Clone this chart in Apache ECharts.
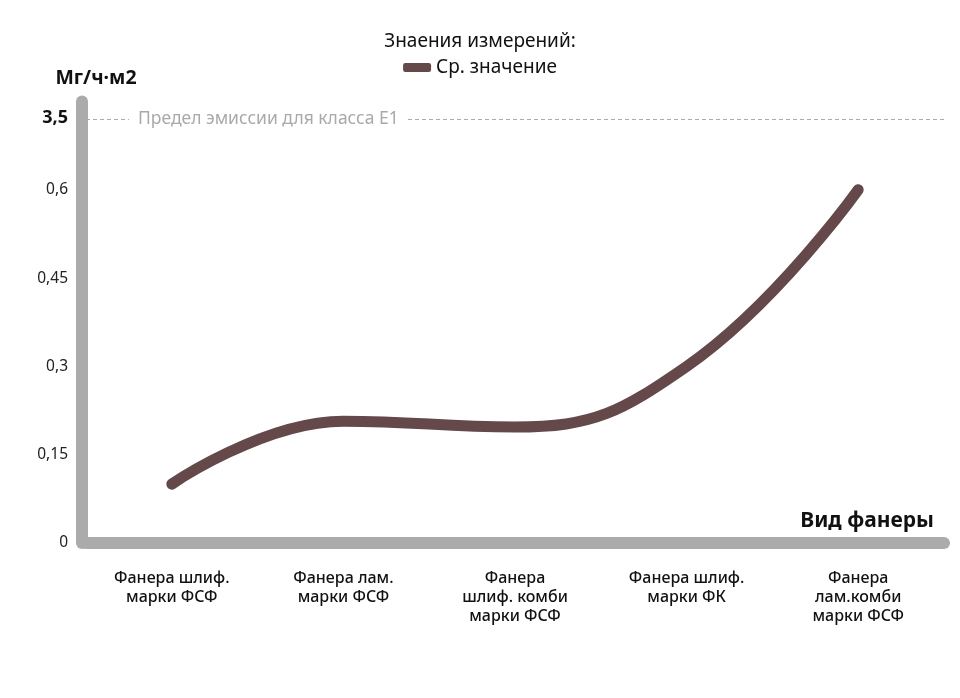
<!DOCTYPE html>
<html>
<head>
<meta charset="utf-8">
<script src="https://cdn.jsdelivr.net/npm/echarts@6/dist/echarts.min.js"></script>
<style>
  html, body { margin: 0; padding: 0; background: #fff; }
  #chart { width: 960px; height: 698px; }
</style>
</head>
<body>
<div id="chart"></div>
<script>
// данные
const categories = [
  'Фанера шлиф.\nмарки ФСФ',
  'Фанера лам.\nмарки ФСФ',
  'Фанера\nшлиф. комби\nмарки ФСФ',
  'Фанера шлиф.\nмарки ФК',
  'Фанера\nлам.комби\nмарки ФСФ',
]
const avgValues = [0.1, 0.207, 0.197, 0.3, 0.6]
const yTicks = [0, 0.15, 0.3, 0.45, 0.6]
// верх оси разорван: 3,5 рисуем в позиции 0.722
const limitPos = 0.722
const limitLabel = '3,5'
const limitText = 'Предел эмиссии для класса E1'

const font = 'Noto Sans'
const axisGray = '#ababab'
const lineColor = '#64484a'

var myChart = echarts.init(document.getElementById('chart'))

var option = {
  textStyle: { fontFamily: font },
  title: {
    text: 'Знаения измерений:',
    left: 'center',
    top: 27,
    textStyle: { fontFamily: font, fontSize: 19, fontWeight: 'normal', color: '#111' },
  },
  legend: {
    data: ['Ср. значение'],
    top: 53,
    left: 'center',
    icon: 'roundRect',
    itemWidth: 28,
    itemHeight: 9,
    itemGap: 8,
    textStyle: { fontFamily: font, fontSize: 19, color: '#111' },
  },
  grid: {
    left: 86,
    right: 16,
    top: 101.5,
    bottom: 155,
  },
  xAxis: {
    type: 'category',
    data: categories,
    offset: 3,
    axisLine: {
      show: true,
      lineStyle: { color: axisGray, width: 12, cap: 'round' },
    },
    axisTick: { show: false },
    axisLabel: {
      margin: 23,
      fontFamily: font,
      fontSize: 16,
      fontWeight: 500,
      color: '#111',
      lineHeight: 19,
    },
    name: 'Вид фанеры',
    nameLocation: 'end',
    nameGap: -10,
    nameTextStyle: {
      fontFamily: font,
      fontSize: 21,
      fontWeight: 'bold',
      color: '#111',
      align: 'right',
      verticalAlign: 'bottom',
      padding: [0, 0, 11, 0],
    },
  },
  yAxis: {
    type: 'value',
    min: 0,
    max: 0.75,
    interval: 0.15,
    offset: 4,
    axisLine: {
      show: true,
      lineStyle: { color: axisGray, width: 12, cap: 'round' },
    },
    axisTick: { show: false },
    splitLine: { show: false },
    axisLabel: {
      customValues: yTicks.concat([limitPos]),
      margin: 14,
      fontFamily: font,
      fontSize: 15.5,
      color: '#222',
      formatter: (v) => {
        if (Math.abs(v - limitPos) < 0.001) return '{b|' + limitLabel + '}'
        return String(v).replace('.', ',')
      },
      rich: {
        b: { fontFamily: font, fontSize: 18, fontWeight: 'bold', color: '#111' },
      },
    },
    name: 'Мг/ч·м2',
    nameLocation: 'end',
    nameGap: 13,
    nameTextStyle: {
      fontFamily: font,
      fontSize: 19.5,
      fontWeight: 'bold',
      color: '#111',
      padding: [0, 0, 0, 28],
    },
  },
  series: [
    {
      name: 'Ср. значение',
      type: 'line',
      data: avgValues,
      smooth: 0.45,
      showSymbol: false,
      symbol: 'none',
      color: lineColor,
      lineStyle: { color: lineColor, width: 11, cap: 'round', join: 'round' },
      markLine: {
        silent: true,
        symbol: 'none',
        lineStyle: { color: axisGray, type: [4, 3], width: 1 },
        label: {
          show: true,
          position: 'insideStartTop',
          distance: [43, -10],
          formatter: limitText,
          fontFamily: font,
          fontSize: 17.5,
          color: '#a9a9a9',
          backgroundColor: '#fff',
          padding: [1, 9],
        },
        data: [{ yAxis: limitPos }],
      },
    },
  ],
}

myChart.setOption(option)
</script>
</body>
</html>
